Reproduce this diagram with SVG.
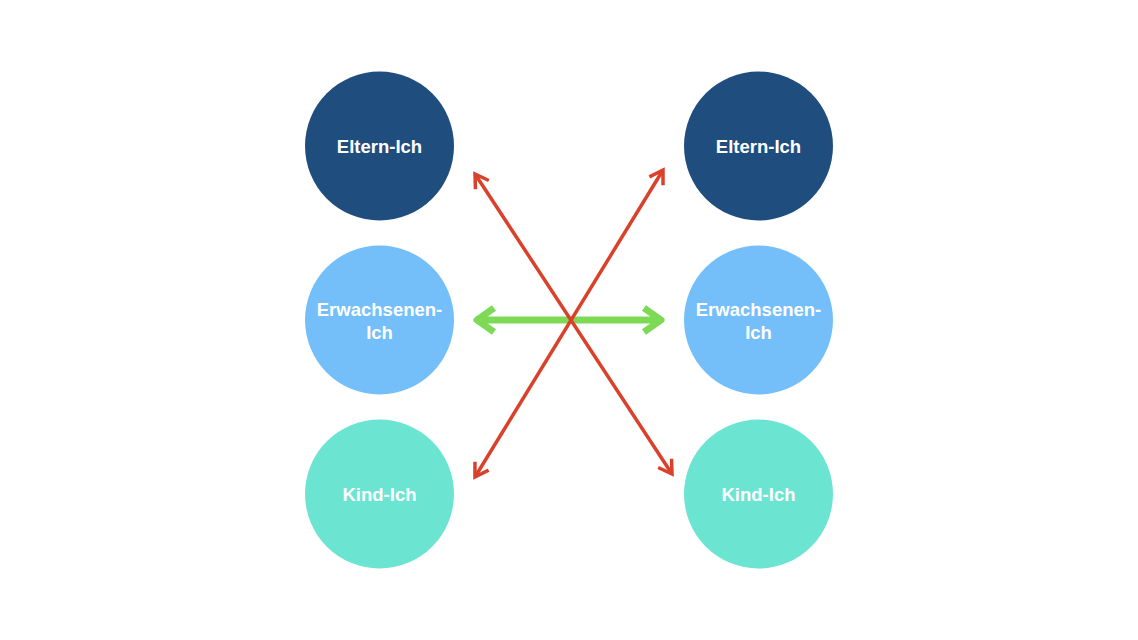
<svg xmlns="http://www.w3.org/2000/svg" width="1138" height="640" viewBox="0 0 1138 640">
<style>
.n text{font-family:"Liberation Sans",Arial,sans-serif;font-weight:bold;font-size:18.5px;fill:#ffffff;text-anchor:middle;dominant-baseline:central}
.red{stroke:#D9412B;stroke-width:3.5;fill:none}
.grn{stroke:#7ED957;stroke-width:7;fill:none}
</style>
<defs>
<marker id="ar" markerUnits="userSpaceOnUse" viewBox="-20 -12 24 24" refX="0" refY="0" markerWidth="24" markerHeight="24" orient="auto-start-reverse">
<path d="M -13 -8 L 0 0 L -13 8" fill="none" stroke="#D9412B" stroke-width="3.5" stroke-linejoin="miter"/>
</marker>
<marker id="ag" markerUnits="userSpaceOnUse" viewBox="-26 -16 30 32" refX="0" refY="0" markerWidth="30" markerHeight="32" orient="auto-start-reverse">
<path d="M -18 -12 L -1 0 L -18 12" fill="none" stroke="#7ED957" stroke-width="7" stroke-linejoin="round"/>
</marker>
</defs>
<rect width="1138" height="640" fill="#ffffff"/>
<g id="l-eltern" class="n"><circle cx="379.5" cy="146" r="74.5" fill="#1F4E7E"/><text x="379.5" y="146">Eltern-Ich</text></g>
<g id="l-erw" class="n"><circle cx="379.5" cy="320" r="74.5" fill="#74BFF9"/><text x="379.5" y="309">Erwachsenen-</text><text x="379.5" y="332">Ich</text></g>
<g id="l-kind" class="n"><circle cx="379.5" cy="494" r="74.5" fill="#6CE4D2"/><text x="379.5" y="494">Kind-Ich</text></g>
<g id="r-eltern" class="n"><circle cx="758.5" cy="146" r="74.5" fill="#1F4E7E"/><text x="758.5" y="146">Eltern-Ich</text></g>
<g id="r-erw" class="n"><circle cx="758.5" cy="320" r="74.5" fill="#74BFF9"/><text x="758.5" y="309">Erwachsenen-</text><text x="758.5" y="332">Ich</text></g>
<g id="r-kind" class="n"><circle cx="758.5" cy="494" r="74.5" fill="#6CE4D2"/><text x="758.5" y="494">Kind-Ich</text></g>
<g id="connectors">
<line class="grn" x1="476" y1="320" x2="662" y2="320" marker-start="url(#ag)" marker-end="url(#ag)"/>
<line class="red" x1="475" y1="174" x2="672" y2="474" marker-start="url(#ar)" marker-end="url(#ar)"/>
<line class="red" x1="475" y1="477" x2="663" y2="170" marker-start="url(#ar)" marker-end="url(#ar)"/>
</g>
</svg>
